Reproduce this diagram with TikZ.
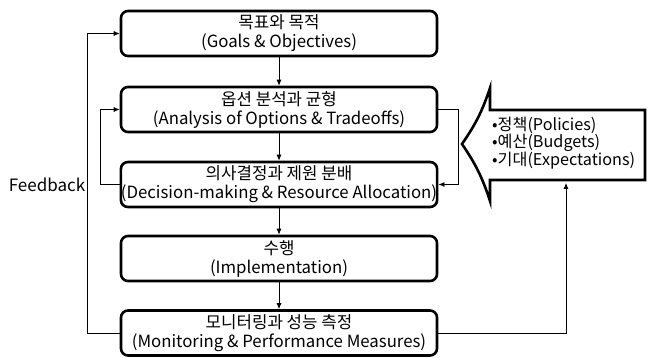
\documentclass[tikz,border=0pt]{standalone}
\usepackage{fontspec}
\setmainfont{Noto Sans CJK KR}
\usetikzlibrary{arrows.meta}
\begin{document}
\begin{tikzpicture}[x=1pt,y=-1pt,
  stage/.style={draw, line width=2.6pt, rounded corners=7pt, minimum width=316pt, minimum height=45pt,
    align=center, inner sep=0pt, font=\fontsize{16.8}{19}\selectfont},
  conn/.style={line width=0.8pt, -{Latex[length=6pt,width=5pt]}},
  plain/.style={line width=0.8pt}]
\useasboundingbox (0,0) rectangle (658,358);
\node[stage] (b1) at (279,33.5) {목표와 목적\\(Goals \& Objectives)};
\node[stage] (b2) at (279,109.5) {옵션 분석과 균형\\(Analysis of Options \& Tradeoffs)};
\node[stage] (b3) at (279,184.5) {의사결정과 제원 분배\\(Decision-making \& Resource Allocation)};
\node[stage] (b4) at (279,258.5) {수행\\(Implementation)};
\node[stage] (b5) at (279,333) {모니터링과 성능 측정\\(Monitoring \& Performance Measures)};
\draw[conn] (b1) -- (b2);
\draw[conn] (b2) -- (b3);
\draw[conn] (b3) -- (b4);
\draw[conn] (b4) -- (b5);
% feedback loops
\coordinate (fo) at (87,333);
\coordinate (fi) at (100,184.5);
\coordinate (fr) at (458,109.5);
\draw[conn] (b5.west) -- (fo) |- (b1.west);
\draw[conn] (b3.west) -- (fi) |- (b2.west);
\draw[conn] (b2.east) -- (fr) |- (b3.east);
\node[font=\fontsize{17}{19}\selectfont] (fb) at (47,185) {Feedback};
% big arrow
\draw[line width=2.6pt, line join=miter] (462,144) to[bend right=8] (490,88) -- (490,110) -- (645,110) -- (645,180) -- (490,180) -- (490,201) to[bend right=8] cycle;
\node[anchor=west, align=left, inner sep=0pt, font=\fontsize{16.2}{17.5}\selectfont] (ext) at (492,143)
  {•정책(Policies)\\•예산(Budgets)\\•기대(Expectations)};
\coordinate (ab) at (566,183);
\draw[conn] (b5.east) -| (ab);
\end{tikzpicture}
\end{document}
